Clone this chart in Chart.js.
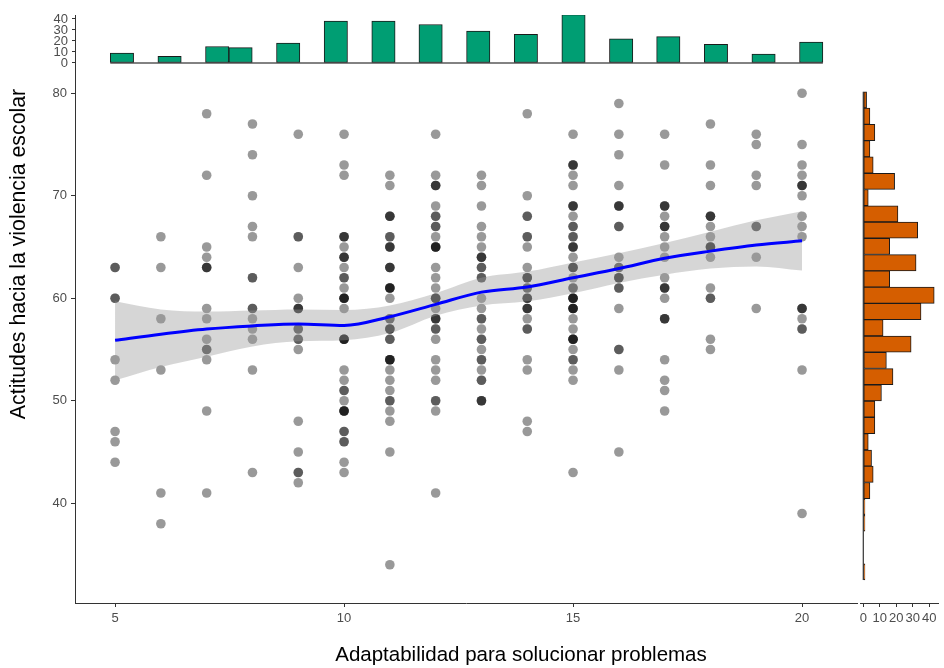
<!DOCTYPE html>
<html>
<head>
<meta charset="utf-8">
<script src="https://cdn.jsdelivr.net/npm/chart.js@4/dist/chart.umd.min.js"></script>
<style>
  html, body { margin: 0; padding: 0; background: #fff; }
  #wrap { position: relative; width: 944px; height: 668px; overflow: hidden; background: #fff; }
  canvas { position: absolute; }
</style>
</head>
<body>
<div id="wrap">
  <canvas id="main" width="870" height="668" style="left:0;top:0"></canvas>
  <canvas id="top" width="870" height="90" style="left:0;top:0"></canvas>
  <canvas id="right" width="100" height="668" style="left:850px;top:0"></canvas>
</div>
<script>
// ---- data ----
const adaptabilidad = [5, 6, 7, 8, 9, 10, 11, 12, 13, 14, 15, 16, 17, 18, 19, 20];

// violence-attitude scores of the students at each adaptability score
const actitudes = [
  [63, 63, 60, 60, 54, 52, 47, 46, 44],
  [66, 63, 58, 53, 41, 38],
  [78, 72, 65, 64, 63, 63, 63, 59, 58, 56, 55, 55, 54, 49, 41],
  [77, 74, 70, 67, 66, 62, 62, 59, 59, 58, 57, 56, 53, 43],
  [76, 66, 66, 63, 60, 59, 59, 59, 57, 57, 56, 56, 55, 48, 45, 43, 43, 42],
  [76, 73, 72, 66, 66, 66, 65, 64, 64, 64, 63, 62, 62, 61, 60, 60, 60, 60, 59, 56, 56, 56, 56, 53, 52, 51, 51, 50, 49, 49, 49, 49, 47, 47, 46, 46, 44, 43],
  [72, 71, 68, 68, 68, 66, 66, 65, 65, 65, 63, 63, 63, 61, 61, 61, 61, 60, 58, 58, 57, 57, 57, 56, 56, 54, 54, 54, 54, 53, 52, 51, 50, 50, 49, 48, 45, 34],
  [76, 72, 71, 71, 71, 69, 68, 68, 67, 67, 66, 65, 65, 65, 65, 63, 62, 61, 60, 60, 60, 59, 58, 58, 58, 57, 57, 56, 54, 53, 52, 50, 50, 49, 41],
  [72, 71, 69, 67, 66, 65, 64, 64, 64, 63, 63, 62, 62, 60, 59, 58, 58, 57, 56, 56, 55, 54, 54, 53, 52, 52, 50, 50, 50],
  [78, 70, 68, 68, 66, 66, 65, 63, 62, 62, 62, 61, 61, 60, 60, 60, 59, 59, 59, 58, 57, 57, 54, 53, 48, 47],
  [76, 73, 73, 73, 72, 71, 69, 69, 69, 68, 67, 67, 66, 66, 65, 65, 65, 64, 63, 63, 63, 62, 61, 61, 60, 60, 60, 60, 59, 59, 59, 59, 58, 57, 56, 56, 56, 56, 55, 54, 54, 53, 52, 43],
  [79, 76, 74, 71, 69, 69, 69, 67, 67, 64, 63, 63, 62, 62, 62, 61, 61, 59, 55, 55, 53, 45],
  [76, 73, 69, 69, 69, 68, 67, 67, 67, 66, 65, 64, 62, 61, 61, 61, 60, 58, 58, 58, 54, 52, 51, 49],
  [77, 73, 71, 68, 68, 68, 67, 66, 65, 65, 65, 64, 61, 60, 60, 56, 55],
  [76, 75, 72, 71, 67, 67, 64, 59],
  [80, 75, 73, 72, 71, 71, 71, 70, 68, 67, 66, 59, 59, 59, 58, 57, 57, 53, 39]
];

// loess fit and its confidence band
const ajuste = [55.9, 56.5, 57.0, 57.3, 57.5, 57.35, 58.2, 59.4, 60.6, 61.1, 62.0, 62.9, 63.9, 64.6, 65.2, 65.6];
const bandaSup = [59.7, 58.9, 58.7, 58.8, 58.9, 58.85, 59.3, 60.5, 62.0, 62.6, 63.5, 64.4, 65.4, 66.5, 67.6, 68.5];
const bandaInf = [52.0, 53.3, 54.3, 55.3, 55.8, 55.9, 56.6, 58.3, 59.3, 59.7, 60.5, 61.5, 62.3, 62.9, 63.1, 62.7];

// marginal histogram of adaptability (non-empty bins)
const binsAdapt = [5.15, 6.19, 7.23, 7.74, 8.78, 9.82, 10.86, 11.89, 12.93, 13.97, 15.01, 16.05, 17.08, 18.12, 19.16, 20.20];
const conteoAdapt = [9, 6, 15, 14, 18, 38, 38, 35, 29, 26, 44, 22, 24, 17, 8, 19];

// marginal histogram of attitudes (all bins, top to bottom)
const binsActitud = [79.35, 77.76, 76.17, 74.59, 73.0, 71.41, 69.82, 68.23, 66.65, 65.06, 63.47, 61.88, 60.29, 58.71, 57.12,
                     55.53, 53.94, 52.35, 50.77, 49.18, 47.59, 46.0, 44.41, 42.83, 41.24, 39.65, 38.06, 36.47, 34.89, 33.3];
const conteoActitud = [2, 4, 7, 4, 6, 19, 3, 21, 33, 16, 32, 16, 43, 35, 12, 29, 14, 18, 11, 7, 7, 3, 5, 6, 4, 1, 1, 0, 0, 1];

const xTicks = [5, 10, 15, 20];
const yTicks = [40, 50, 60, 70, 80];
const countTicks = [0, 10, 20, 30, 40];

const xTitle = 'Adaptabilidad para solucionar problemas';
const yTitle = 'Actitudes hacia la violencia escolar';

// ---- shared styling ----
const FONT = '"Liberation Sans", Arial, Helvetica, sans-serif';
const TICK_COLOR = '#4d4d4d';
const AXIS_COLOR = '#333333';
const TICK_FONT = { size: 13 };
const X_RANGE = [4.125, 21.2];
const Y_RANGE = [30.27, 82.27];

Chart.defaults.font.family = FONT;
Chart.defaults.animation = false;
Chart.defaults.plugins.legend.display = false;
Chart.defaults.plugins.tooltip.enabled = false;
Chart.defaults.events = [];

const fixedTicks = list => scale => { scale.ticks = list.map(v => ({ value: v })); };

const puntos = [];
adaptabilidad.forEach((x, i) => actitudes[i].forEach(y => puntos.push({ x, y })));
const curve = arr => adaptabilidad.map((x, i) => ({ x, y: arr[i] }));

const axisTitles = {
  id: 'axisTitles',
  afterDraw(chart) {
    const ctx = chart.ctx;
    ctx.save();
    ctx.fillStyle = '#000';
    ctx.textAlign = 'center';
    ctx.textBaseline = 'middle';
    ctx.font = '20.5px ' + FONT;
    ctx.fillText(xTitle, 521, 655);
    ctx.font = '21.3px ' + FONT;
    ctx.translate(19, 254);
    ctx.rotate(-Math.PI / 2);
    ctx.fillText(yTitle, 0, 0);
    ctx.restore();
  }
};

// ---- main scatter panel ----
new Chart(document.getElementById('main'), {
  type: 'scatter',
  data: {
    datasets: [
      { data: puntos, pointRadius: 4.8, pointBorderWidth: 0, backgroundColor: 'rgba(0,0,0,0.4)', order: 3 },
      { type: 'line', data: curve(bandaInf), pointRadius: 0, borderWidth: 0, borderColor: 'transparent',
        fill: false, cubicInterpolationMode: 'monotone', order: 2 },
      { type: 'line', data: curve(bandaSup), pointRadius: 0, borderWidth: 0, borderColor: 'transparent',
        fill: '-1', backgroundColor: 'rgba(153,153,153,0.4)', cubicInterpolationMode: 'monotone', order: 2 },
      { type: 'line', data: curve(ajuste), pointRadius: 0, borderWidth: 3, borderColor: '#0000ff',
        fill: false, cubicInterpolationMode: 'monotone', order: 1 }
    ]
  },
  options: {
    responsive: false,
    layout: { autoPadding: false, padding: { left: 0, right: 13, top: 70, bottom: 0 } },
    scales: {
      x: {
        type: 'linear', min: X_RANGE[0], max: X_RANGE[1],
        afterBuildTicks: fixedTicks(xTicks),
        afterFit: s => { s.height = 65; },
        grid: { drawOnChartArea: false, tickLength: 4, tickColor: AXIS_COLOR },
        border: { display: true, color: AXIS_COLOR, width: 1 },
        ticks: { color: TICK_COLOR, font: TICK_FONT, padding: 4, maxRotation: 0, autoSkip: false }
      },
      y: {
        type: 'linear', min: Y_RANGE[0], max: Y_RANGE[1],
        afterBuildTicks: fixedTicks(yTicks),
        afterFit: s => { s.width = 75; },
        grid: { drawOnChartArea: false, tickLength: 4, tickColor: AXIS_COLOR },
        border: { display: true, color: AXIS_COLOR, width: 1 },
        ticks: { color: TICK_COLOR, font: TICK_FONT, padding: 4, autoSkip: false }
      }
    }
  },
  plugins: [axisTitles]
});

// ---- top marginal histogram ----
// bottom padding is kept larger than the tick-label overhang so the panel ends at y = 73
const wAdapt = binsAdapt[3] - binsAdapt[2];
new Chart(document.getElementById('top'), {
  type: 'bar',
  data: {
    datasets: [
      { data: binsAdapt.map((x, i) => ({ x, y: conteoAdapt[i] })), backgroundColor: '#009E73',
        borderColor: '#1a1a1a', borderWidth: 1, borderSkipped: false,
        barPercentage: 1, categoryPercentage: 1, order: 1 },
      { type: 'line', data: [{ x: binsAdapt[0] - wAdapt / 2, y: 0 }, { x: binsAdapt[binsAdapt.length - 1] + wAdapt / 2, y: 0 }],
        borderColor: '#595959', borderWidth: 1.5, pointRadius: 0, order: 2 }
    ]
  },
  options: {
    responsive: false,
    layout: { autoPadding: false, padding: { left: 0, right: 13, top: 15, bottom: 17 } },
    scales: {
      x: { type: 'linear', offset: false, min: X_RANGE[0], max: X_RANGE[1], display: false },
      y: {
        type: 'linear', min: -9.1, max: 43.6,
        afterBuildTicks: fixedTicks(countTicks),
        afterFit: s => { s.width = 75; },
        grid: { drawOnChartArea: false, tickLength: 3, tickColor: AXIS_COLOR },
        border: { display: true, color: AXIS_COLOR, width: 1 },
        ticks: { color: TICK_COLOR, font: TICK_FONT, padding: 4, autoSkip: false }
      }
    }
  }
});

// ---- right marginal histogram ----
const wAct = binsActitud[0] - binsActitud[1];
new Chart(document.getElementById('right'), {
  type: 'bar',
  data: {
    datasets: [
      { data: binsActitud.map((y, i) => ({ x: conteoActitud[i], y })), backgroundColor: '#D55E00',
        borderColor: '#1a1a1a', borderWidth: 1, borderSkipped: false,
        barPercentage: 1, categoryPercentage: 1, order: 1 },
      { type: 'line', data: [{ x: 0, y: binsActitud[binsActitud.length - 1] - wAct / 2 }, { x: 0, y: binsActitud[0] + wAct / 2 }],
        borderColor: '#333333', borderWidth: 1.2, pointRadius: 0, order: 2 }
    ]
  },
  options: {
    responsive: false,
    indexAxis: 'y',
    layout: { autoPadding: false, padding: { left: 10, right: 12, top: 70, bottom: 0 } },
    scales: {
      y: { type: 'linear', offset: false, min: Y_RANGE[0], max: Y_RANGE[1], display: false },
      x: {
        type: 'linear', min: -2, max: 45.3,
        afterBuildTicks: fixedTicks(countTicks),
        afterFit: s => { s.height = 65; },
        grid: { drawOnChartArea: false, tickLength: 4, tickColor: AXIS_COLOR },
        border: { display: true, color: AXIS_COLOR, width: 1 },
        ticks: { color: TICK_COLOR, font: TICK_FONT, padding: 4, maxRotation: 0, autoSkip: false }
      }
    }
  }
});
</script>
</body>
</html>
